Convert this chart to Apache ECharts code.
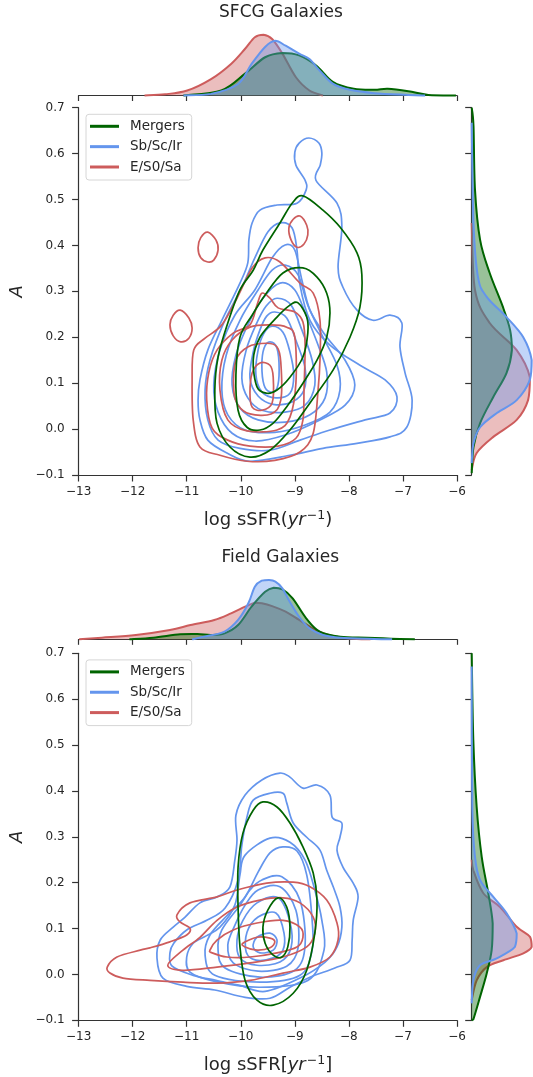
<!DOCTYPE html>
<html><head><meta charset="utf-8">
<script src="https://cdn.jsdelivr.net/npm/echarts@6/dist/echarts.min.js"></script>
<style>html,body{margin:0;padding:0;background:#fff}#c{width:533px;height:1077px}</style>
</head><body><div id="c"></div>
<script>
// ---------- DATA ----------
const panelTitles = ['SFCG Galaxies', 'Field Galaxies'];
const classNames = ['Mergers', 'Sb/Sc/Ir', 'E/S0/Sa'];
const classColors = ['#006400', '#6495ED', '#CD5C5C'];
const xRange = [-13, -6];
const yRange = [-0.1, 0.7];

// SFCG contours (log sSFR, A)
const sfcgSpirals = [
 [[-8.74,0.634],[-8.555,0.623],[-8.50,0.601],[-8.53,0.575],[-8.61,0.542],[-8.22,0.492],[-8.13,0.440],[-8.20,0.353],[-8.11,0.309],[-7.85,0.259],[-7.555,0.237],[-7.24,0.248],[-7.02,0.231],[-7.055,0.179],[-6.96,0.122],[-6.83,0.063],[-6.93,0.004],[-7.24,-0.017],[-7.85,-0.031],[-8.48,-0.042],[-9.09,-0.057],[-9.83,-0.070],[-10.255,-0.052],[-10.61,-0.024],[-10.755,0.020],[-10.79,0.063],[-10.755,0.107],[-10.61,0.172],[-10.35,0.237],[-10.015,0.318],[-9.87,0.362],[-9.85,0.412],[-9.79,0.449],[-9.645,0.477],[-9.33,0.488],[-8.96,0.492],[-8.79,0.521],[-8.81,0.542],[-8.98,0.575],[-9.0,0.603],[-8.92,0.623]],
 [[-9.275,0.449],[-9.05,0.438],[-8.96,0.390],[-8.905,0.314],[-8.72,0.237],[-8.35,0.183],[-7.795,0.139],[-7.33,0.107],[-7.11,0.070],[-7.24,0.035],[-7.70,0.020],[-8.35,-0.002],[-8.905,-0.024],[-9.46,-0.046],[-10.015,-0.042],[-10.42,-0.024],[-10.61,0.020],[-10.66,0.085],[-10.57,0.150],[-10.31,0.233],[-9.96,0.314],[-9.74,0.373],[-9.50,0.429]],
 [[-9.18,0.401],[-9.0,0.390],[-8.87,0.325],[-8.72,0.259],[-8.44,0.205],[-8.07,0.150],[-7.89,0.096],[-8.07,0.052],[-8.535,0.020],[-9.18,-0.013],[-9.74,-0.026],[-10.16,-0.009],[-10.42,0.037],[-10.50,0.096],[-10.385,0.172],[-10.11,0.248],[-9.74,0.303],[-9.42,0.373]],
 [[-9.18,0.357],[-8.94,0.336],[-8.76,0.270],[-8.50,0.205],[-8.22,0.139],[-8.165,0.085],[-8.35,0.037],[-8.81,0.009],[-9.37,-0.007],[-9.92,-0.002],[-10.24,0.031],[-10.35,0.085],[-10.27,0.161],[-10.015,0.237],[-9.68,0.303],[-9.42,0.346]],
 [[-9.275,0.318],[-9.0,0.303],[-8.79,0.248],[-8.57,0.183],[-8.41,0.124],[-8.44,0.068],[-8.72,0.031],[-9.18,0.015],[-9.68,0.020],[-10.015,0.046],[-10.16,0.096],[-10.09,0.161],[-9.87,0.227],[-9.59,0.285]],
 [[-9.33,0.285],[-9.07,0.270],[-8.87,0.216],[-8.68,0.150],[-8.63,0.096],[-8.81,0.052],[-9.18,0.037],[-9.61,0.041],[-9.87,0.068],[-9.98,0.111],[-9.90,0.172],[-9.72,0.227],[-9.53,0.268]],
 [[-9.37,0.255],[-9.15,0.242],[-8.96,0.187],[-8.81,0.133],[-8.83,0.085],[-9.05,0.059],[-9.40,0.054],[-9.68,0.072],[-9.83,0.111],[-9.77,0.168],[-9.645,0.216],[-9.52,0.246]],
 [[-9.42,0.224],[-9.22,0.211],[-9.09,0.168],[-9.02,0.118],[-9.09,0.078],[-9.35,0.068],[-9.61,0.081],[-9.72,0.118],[-9.68,0.172],[-9.57,0.209]],
 [[-9.46,0.190],[-9.33,0.176],[-9.29,0.129],[-9.33,0.089],[-9.46,0.081],[-9.57,0.096],[-9.61,0.139],[-9.57,0.176]]
];
const sfcgEarly = [
 [[-10.61,0.429],[-10.46,0.412],[-10.42,0.390],[-10.50,0.368],[-10.61,0.364],[-10.74,0.373],[-10.79,0.395],[-10.74,0.417]],
 [[-11.12,0.259],[-10.96,0.242],[-10.90,0.220],[-10.96,0.198],[-11.11,0.190],[-11.25,0.203],[-11.31,0.227],[-11.25,0.248]],
 [[-8.905,0.464],[-8.78,0.444],[-8.76,0.423],[-8.83,0.403],[-8.96,0.396],[-9.07,0.412],[-9.11,0.438],[-9.03,0.457]],
 [[-9.55,0.373],[-9.275,0.364],[-8.905,0.318],[-8.66,0.296],[-8.535,0.237],[-8.535,0.150],[-8.57,0.085],[-8.66,-0.009],[-8.905,-0.050],[-9.37,-0.068],[-9.885,-0.070],[-10.385,-0.057],[-10.755,-0.039],[-10.88,0.020],[-10.90,0.107],[-10.87,0.172],[-10.66,0.198],[-10.35,0.227],[-10.07,0.285],[-9.79,0.351]],
 [[-9.61,0.296],[-9.46,0.285],[-9.31,0.264],[-9.0,0.255],[-8.85,0.233],[-8.81,0.183],[-8.83,0.085],[-8.85,0.020],[-8.98,-0.020],[-9.31,-0.037],[-9.83,-0.037],[-10.24,-0.024],[-10.53,0.002],[-10.63,0.063],[-10.59,0.124],[-10.44,0.172],[-10.14,0.209],[-9.83,0.227],[-9.70,0.270]],
 [[-9.83,0.222],[-9.46,0.227],[-9.15,0.222],[-9.0,0.200],[-8.98,0.100],[-9.09,0.026],[-9.33,-0.002],[-9.885,-0.004],[-10.24,0.020],[-10.385,0.085],[-10.35,0.150],[-10.16,0.194]],
 [[-10.13,0.085],[-10.09,0.150],[-9.87,0.179],[-9.52,0.187],[-9.33,0.179],[-9.26,0.146],[-9.26,0.063],[-9.44,0.033],[-9.83,0.033],[-10.05,0.052]],
 [[-9.83,0.078],[-9.79,0.122],[-9.645,0.144],[-9.46,0.139],[-9.40,0.113],[-9.42,0.057],[-9.61,0.041],[-9.79,0.048]]
];
const sfcgMergers = [
 [[-8.85,0.508],[-8.48,0.477],[-8.165,0.440],[-7.85,0.384],[-7.76,0.336],[-7.795,0.266],[-7.98,0.200],[-8.29,0.129],[-8.72,0.057],[-9.09,-0.002],[-9.46,-0.046],[-9.83,-0.061],[-10.20,-0.039],[-10.44,0.013],[-10.48,0.085],[-10.42,0.157],[-10.24,0.231],[-10.015,0.303],[-9.77,0.346],[-9.59,0.390],[-9.275,0.449],[-9.05,0.492]],
 [[-8.85,0.351],[-8.59,0.331],[-8.41,0.296],[-8.35,0.253],[-8.41,0.200],[-8.59,0.150],[-8.85,0.100],[-9.13,0.052],[-9.40,0.013],[-9.645,-0.002],[-9.885,0.004],[-10.05,0.041],[-10.09,0.118],[-10.015,0.200],[-9.79,0.248],[-9.55,0.292],[-9.22,0.340]],
 [[-8.94,0.275],[-8.78,0.244],[-8.76,0.209],[-8.85,0.157],[-9.09,0.113],[-9.33,0.085],[-9.52,0.078],[-9.70,0.092],[-9.77,0.150],[-9.645,0.200],[-9.33,0.244],[-9.09,0.270]]
];
// SFCG marginal densities: [log sSFR, density] and [density, A]
const sfcgEarlyX = [[-11.78,0],[-11.4,0.02],[-10.99,0.082],[-10.55,0.27],[-10.18,0.52],[-9.92,0.77],[-9.74,0.96],[-9.58,1.0],[-9.42,0.93],[-9.23,0.69],[-8.98,0.30],[-8.73,0.082],[-8.48,0]];
const sfcgSpiralsX = [[-11.06,0],[-10.55,0.027],[-10.05,0.19],[-9.80,0.52],[-9.55,0.80],[-9.36,0.90],[-9.17,0.82],[-8.92,0.69],[-8.73,0.60],[-8.54,0.41],[-8.29,0.19],[-7.98,0.093],[-7.53,0.038],[-6.90,0.01],[-6.59,0]];
const sfcgMergersX = [[-11.06,0],[-10.36,0.082],[-9.92,0.36],[-9.55,0.63],[-9.23,0.70],[-8.92,0.66],[-8.60,0.49],[-8.29,0.22],[-7.91,0.11],[-7.53,0.093],[-7.28,0.11],[-6.90,0.071],[-6.53,0.01],[-6.02,0]];
const sfcgEarlyA = [[0,0.449],[0.055,0.303],[0.30,0.231],[0.75,0.172],[0.97,0.113],[0.94,0.063],[0.75,0.020],[0.36,-0.017],[0.083,-0.052],[0,-0.089]];
const sfcgSpiralsA = [[0,0.667],[0.03,0.449],[0.105,0.331],[0.25,0.288],[0.58,0.244],[0.86,0.200],[1.0,0.150],[0.97,0.107],[0.75,0.063],[0.42,0.035],[0.14,0.004],[0.03,-0.031],[0,-0.074]];
const sfcgMergersA = [[0,0.70],[0.03,0.66],[0.055,0.521],[0.14,0.412],[0.30,0.340],[0.52,0.266],[0.64,0.216],[0.67,0.172],[0.58,0.122],[0.36,0.070],[0.14,0.013],[0.03,-0.039],[0,-0.096]];

// Field contours
const fieldSpirals = [
 [[-7.98,0.031],[-8.26,0.014],[-8.72,-0.006],[-9.09,-0.028],[-9.46,-0.052],[-9.92,-0.050],[-10.48,-0.034],[-11.0,-0.026],[-11.44,-0.008],[-11.55,0.036],[-11.49,0.075],[-11.25,0.103],[-11.03,0.125],[-10.755,0.156],[-10.44,0.169],[-10.20,0.191],[-10.11,0.249],[-10.07,0.293],[-10.09,0.347],[-9.92,0.391],[-9.61,0.424],[-9.275,0.439],[-9.09,0.430],[-8.85,0.406],[-8.59,0.413],[-8.35,0.391],[-8.31,0.343],[-8.13,0.330],[-8.165,0.299],[-8.22,0.271],[-8.11,0.234],[-7.92,0.199],[-7.83,0.169],[-7.92,0.118],[-7.94,0.075]],
 [[-9.885,0.343],[-9.77,0.380],[-9.46,0.395],[-9.22,0.395],[-9.15,0.374],[-9.03,0.330],[-8.78,0.299],[-8.535,0.271],[-8.41,0.227],[-8.29,0.191],[-8.165,0.147],[-8.13,0.103],[-8.22,0.060],[-8.44,0.027],[-8.905,-0.008],[-9.55,-0.037],[-10.015,-0.024],[-10.46,-0.013],[-10.88,-0.002],[-11.27,0.018],[-11.31,0.047],[-11.24,0.068],[-11.0,0.097],[-10.63,0.118],[-10.29,0.145],[-10.05,0.206],[-9.98,0.282]],
 [[-9.92,0.260],[-9.46,0.297],[-9.09,0.288],[-8.81,0.249],[-8.63,0.184],[-8.50,0.118],[-8.46,0.053],[-8.76,-0.013],[-9.645,-0.028],[-10.48,-0.015],[-10.94,0.005],[-11.0,0.038],[-10.88,0.068],[-10.64,0.084],[-10.385,0.103],[-10.11,0.151],[-10.015,0.217]],
 [[-9.22,0.278],[-8.96,0.269],[-8.78,0.217],[-8.68,0.118],[-8.68,0.053],[-8.905,-0.002],[-9.645,-0.017],[-10.48,-0.002],[-10.66,0.042],[-10.57,0.086],[-10.24,0.130],[-9.92,0.169],[-9.68,0.223],[-9.46,0.265]],
 [[-9.61,0.206],[-9.24,0.213],[-8.905,0.162],[-8.81,0.064],[-9.0,0.009],[-9.645,-0.006],[-10.29,0.014],[-10.42,0.053],[-10.35,0.097],[-10.015,0.151],[-9.83,0.184]],
 [[-9.68,0.184],[-9.275,0.191],[-8.98,0.140],[-8.94,0.058],[-9.15,0.018],[-9.68,0.007],[-10.14,0.025],[-10.24,0.064],[-10.11,0.107],[-9.92,0.151]],
 [[-9.70,0.156],[-9.31,0.167],[-9.09,0.114],[-9.07,0.058],[-9.275,0.027],[-9.70,0.020],[-10.015,0.036],[-10.07,0.075],[-9.96,0.118]],
 [[-9.68,0.125],[-9.35,0.134],[-9.20,0.090],[-9.22,0.053],[-9.40,0.036],[-9.72,0.031],[-9.90,0.049],[-9.885,0.092]],
 [[-9.70,0.081],[-9.46,0.090],[-9.33,0.075],[-9.40,0.053],[-9.645,0.047],[-9.77,0.060]]
];
const fieldEarly = [
 [[-12.47,0.016],[-12.42,0.003],[-12.18,-0.008],[-11.68,-0.013],[-11.07,-0.017],[-10.44,-0.019],[-9.83,-0.013],[-9.22,0.003],[-8.72,0.016],[-8.35,0.038],[-8.20,0.075],[-8.22,0.112],[-8.41,0.162],[-8.72,0.191],[-9.03,0.201],[-9.52,0.199],[-10.07,0.184],[-10.44,0.169],[-10.94,0.156],[-11.18,0.130],[-11.12,0.114],[-10.94,0.101],[-11.0,0.086],[-11.31,0.071],[-11.68,0.058],[-11.86,0.053],[-12.29,0.038]],
 [[-11.07,0.053],[-10.755,0.081],[-10.44,0.118],[-10.07,0.147],[-9.645,0.162],[-9.22,0.167],[-8.905,0.156],[-8.66,0.125],[-8.63,0.090],[-8.78,0.060],[-9.22,0.038],[-9.83,0.025],[-10.44,0.016],[-11.07,0.009],[-11.35,0.020]],
 [[-10.57,0.053],[-10.44,0.075],[-10.14,0.097],[-9.70,0.112],[-9.22,0.118],[-8.905,0.103],[-8.85,0.081],[-8.96,0.060],[-9.33,0.047],[-9.83,0.038],[-10.255,0.038],[-10.53,0.047]],
 [[-9.96,0.068],[-9.70,0.081],[-9.46,0.079],[-9.37,0.071],[-9.46,0.058],[-9.70,0.053],[-9.92,0.060]]
];
const fieldMergers = [
 [[-9.59,0.376],[-9.33,0.365],[-9.09,0.330],[-8.85,0.278],[-8.66,0.221],[-8.59,0.162],[-8.63,0.090],[-8.78,0.009],[-9.03,-0.041],[-9.40,-0.067],[-9.70,-0.056],[-9.92,-0.013],[-10.015,0.060],[-10.05,0.147],[-10.05,0.234],[-9.96,0.308],[-9.77,0.358]],
 [[-9.31,0.167],[-9.15,0.147],[-9.09,0.103],[-9.13,0.060],[-9.24,0.038],[-9.40,0.042],[-9.55,0.068],[-9.59,0.103],[-9.50,0.140]]
];
const fieldEarlyX = [[-12.99,0],[-12.57,0.028],[-11.94,0.073],[-11.31,0.157],[-10.93,0.24],[-10.49,0.326],[-10.18,0.438],[-9.92,0.55],[-9.74,0.618],[-9.61,0.607],[-9.42,0.56],[-9.17,0.466],[-8.92,0.326],[-8.67,0.185],[-8.42,0.084],[-8.16,0.034],[-7.85,0.006],[-7.6,0]];
const fieldSpiralsX = [[-10.9,0],[-10.68,0.045],[-10.30,0.13],[-10.05,0.326],[-9.86,0.607],[-9.74,0.888],[-9.61,0.989],[-9.48,1.0],[-9.36,0.972],[-9.23,0.86],[-9.11,0.66],[-8.92,0.38],[-8.73,0.185],[-8.48,0.073],[-8.16,0.028],[-7.53,0.006],[-7.2,0]];
const fieldMergersX = [[-12.06,0],[-11.62,0.028],[-11.12,0.084],[-10.80,0.09],[-10.55,0.073],[-10.30,0.10],[-10.05,0.24],[-9.80,0.55],[-9.55,0.80],[-9.39,0.87],[-9.23,0.84],[-9.04,0.69],[-8.79,0.354],[-8.54,0.13],[-8.16,0.045],[-7.66,0.028],[-7.22,0.011],[-6.78,0]];
const fieldEarlyA = [[0,0.25],[0.027,0.227],[0.194,0.177],[0.472,0.147],[0.75,0.104],[0.972,0.082],[1.0,0.06],[0.861,0.046],[0.528,0.031],[0.25,0.016],[0.083,-0.013],[0,-0.056]];
const fieldSpiralsA = [[0,0.671],[0.01,0.365],[0.055,0.256],[0.139,0.206],[0.36,0.169],[0.583,0.133],[0.75,0.089],[0.72,0.06],[0.417,0.035],[0.139,0.020],[0.027,-0.013],[0,-0.063]];
const fieldMergersA = [[0,0.70],[0.027,0.511],[0.083,0.365],[0.167,0.256],[0.277,0.177],[0.35,0.111],[0.333,0.053],[0.25,0.002],[0.139,-0.049],[0.027,-0.098],[0,-0.1]];

// ---------- LAYOUT / STYLE ----------
const FONT = 'DejaVu Sans';
const AX = '#333';
const TXT = '#262626';
const fillColors = ['rgba(0,100,0,0.4)', 'rgba(100,149,237,0.4)', 'rgba(205,92,92,0.4)'];
const layout = [
  {top: 107.7, h: 367.3, mTop: 29.5, mH: 66, mMax: 1.087, rMax: 1.022, title: [281, 12.7], xlab: 520, xname: '(', xclose: ')', legTop: 114.3},
  {top: 653.3, h: 367, mTop: 573.3, mH: 66, mMax: 1.113, rMax: 1.022, title: [280.3, 557.3], xlab: 1065, xname: '[', xclose: ']', legTop: 659.9}
];
const panels = [
  {contours: [sfcgSpirals, sfcgEarly, sfcgMergers], X: [sfcgMergersX, sfcgSpiralsX, sfcgEarlyX], A: [sfcgMergersA, sfcgSpiralsA, sfcgEarlyA]},
  {contours: [fieldSpirals, fieldEarly, fieldMergers], X: [fieldMergersX, fieldSpiralsX, fieldEarlyX], A: [fieldMergersA, fieldSpiralsA, fieldEarlyA]}
];

const minus = s => s.replace('-', '\u2212');
const grids = [], xAxes = [], yAxes = [], series = [], graphic = [];
const axLine = {show: true, onZero: false, lineStyle: {color: AX, width: 1.2}};
const axTick = len => ({show: true, inside: false, length: len, lineStyle: {color: AX, width: 1.2}});

// Catmull-Rom spline through pixel points -> SVG path (rendering only)
function splinePath(P, closed, clamp) {
  const n = P.length;
  const get = i => closed ? P[(i + n) % n] : P[Math.max(0, Math.min(n - 1, i))];
  let mn = [Infinity, Infinity], mx = [-Infinity, -Infinity];
  P.forEach(p => { mn = [Math.min(mn[0], p[0]), Math.min(mn[1], p[1])]; mx = [Math.max(mx[0], p[0]), Math.max(mx[1], p[1])]; });
  const cl = c => clamp ? [Math.max(mn[0], Math.min(mx[0], c[0])), Math.max(mn[1], Math.min(mx[1], c[1]))] : c;
  const f = v => v.toFixed(2);
  let d = 'M' + f(P[0][0]) + ' ' + f(P[0][1]);
  const segs = closed ? n : n - 1;
  for (let i = 0; i < segs; i++) {
    const p0 = get(i - 1), p1 = get(i), p2 = get(i + 1), p3 = get(i + 2);
    const c1 = cl([p1[0] + (p2[0] - p0[0]) / 6, p1[1] + (p2[1] - p0[1]) / 6]);
    const c2 = cl([p2[0] - (p3[0] - p1[0]) / 6, p2[1] - (p3[1] - p1[1]) / 6]);
    d += ' C' + f(c1[0]) + ' ' + f(c1[1]) + ' ' + f(c2[0]) + ' ' + f(c2[1]) + ' ' + f(p2[0]) + ' ' + f(p2[1]);
  }
  if (closed) d += ' Z';
  return d;
}

function contourSeries(name, list, color, ai) {
  return {
    type: 'custom', name, xAxisIndex: ai, yAxisIndex: ai, silent: true,
    data: list.map(c => c[0]),
    renderItem: (params, api) => {
      const pts = list[params.dataIndex].map(p => api.coord(p));
      return {type: 'path', shape: {pathData: splinePath(pts, true, false)},
        style: {fill: 'none', stroke: color, lineWidth: 1.7}};
    }
  };
}
function marginSeries(name, pts, color, fill, ai) {
  return {
    type: 'custom', name, xAxisIndex: ai, yAxisIndex: ai, silent: true,
    data: [pts[0]],
    renderItem: (params, api) => {
      const P = pts.map(p => api.coord(p));
      const d = splinePath(P, false, true);
      return {type: 'group', children: [
        {type: 'path', shape: {pathData: d + ' Z'}, style: {fill: fill, stroke: 'none'}},
        {type: 'path', shape: {pathData: d}, style: {fill: 'none', stroke: color, lineWidth: 2}}
      ]};
    }
  };
}

layout.forEach((L, p) => {
  const g = p * 3;
  grids.push({left: 78.6, top: L.top, width: 378.4, height: L.h});
  grids.push({left: 78.6, top: L.mTop, width: 378.4, height: L.mH});
  grids.push({left: 471.7, top: L.top, width: 61.3, height: L.h});
  xAxes.push({type: 'value', gridIndex: g, min: xRange[0], max: xRange[1], interval: 1, position: 'bottom',
    axisLine: axLine, axisTick: axTick(6.5), splitLine: {show: false},
    axisLabel: {margin: 11, color: TXT, fontSize: 12, fontFamily: FONT, formatter: v => minus(String(Math.round(v)))}});
  yAxes.push({type: 'value', gridIndex: g, min: yRange[0], max: yRange[1], interval: 0.1, position: 'left',
    axisLine: axLine, axisTick: axTick(6.5), splitLine: {show: false},
    axisLabel: {margin: 14, color: TXT, fontSize: 12, fontFamily: FONT, formatter: v => Math.abs(v) < 1e-9 ? '0.0' : minus(v.toFixed(1))}});
  xAxes.push({type: 'value', gridIndex: g + 1, min: xRange[0], max: xRange[1], interval: 1, position: 'bottom',
    axisLine: axLine, axisTick: axTick(5.5), axisLabel: {show: false}, splitLine: {show: false}});
  yAxes.push({type: 'value', gridIndex: g + 1, min: 0, max: L.mMax, show: false});
  xAxes.push({type: 'value', gridIndex: g + 2, min: 0, max: L.rMax, show: false});
  yAxes.push({type: 'value', gridIndex: g + 2, min: yRange[0], max: yRange[1], interval: 0.1, position: 'left',
    axisLine: axLine, axisTick: axTick(6.5), axisLabel: {show: false}, splitLine: {show: false}});

  const P = panels[p];
  series.push(contourSeries(classNames[1], P.contours[0], classColors[1], g));
  series.push(contourSeries(classNames[2], P.contours[1], classColors[2], g));
  series.push(contourSeries(classNames[0], P.contours[2], classColors[0], g));
  [2, 0, 1].forEach(k => {
    series.push(marginSeries(classNames[k], P.X[k], classColors[k], fillColors[k], g + 1));
  });
  [2, 0, 1].forEach(k => {
    series.push(marginSeries(classNames[k], P.A[k], classColors[k], fillColors[k], g + 2));
  });

  graphic.push({type: 'text', x: L.title[0], y: L.title[1], silent: true,
    style: {text: panelTitles[p], fontSize: 17, fontFamily: FONT, fill: TXT, align: 'center', verticalAlign: 'middle'}});
  graphic.push({type: 'text', x: 268, y: L.xlab, silent: true,
    style: {text: '{n|log sSFR' + L.xname + '}{i|yr}{s|\u22121}{n|' + L.xclose + '}',
      align: 'center', verticalAlign: 'middle',
      rich: {
        n: {fontSize: 18, fontFamily: FONT, fill: TXT, lineHeight: 22},
        i: {fontSize: 18, fontFamily: FONT, fontStyle: 'italic', fill: TXT, lineHeight: 22},
        s: {fontSize: 12.5, fontFamily: FONT, fill: TXT, verticalAlign: 'top', lineHeight: 13, padding: [0, 0, 0, 1]}
      }}});
  graphic.push({type: 'text', x: 17.5, y: L.top + L.h / 2, rotation: Math.PI / 2, silent: true,
    style: {text: 'A', fontSize: 18, fontStyle: 'italic', fontFamily: FONT, fill: TXT, align: 'center', verticalAlign: 'middle'}});
  graphic.push({type: 'rect', silent: true, shape: {x: 86, y: L.legTop, width: 105.7, height: 65.7, r: 3},
    style: {fill: 'rgba(255,255,255,0.8)', stroke: '#d6d6d6', lineWidth: 1}});
  classNames.forEach((nm, k) => {
    const yy = L.legTop + 12 + k * 20.35;
    graphic.push({type: 'line', silent: true, shape: {x1: 90, y1: yy, x2: 119, y2: yy},
      style: {stroke: classColors[k], lineWidth: 3}});
    graphic.push({type: 'text', x: 130, y: yy, silent: true,
      style: {text: nm, fontSize: 13.5, fontFamily: FONT, fill: TXT, align: 'left', verticalAlign: 'middle'}});
  });
});

const chart = echarts.init(document.getElementById('c'), null, {renderer: 'canvas', width: 533, height: 1077});
chart.setOption({
  animation: false,
  backgroundColor: '#fff',
  grid: grids, xAxis: xAxes, yAxis: yAxes, series: series, graphic: graphic
});
</script></body></html>
